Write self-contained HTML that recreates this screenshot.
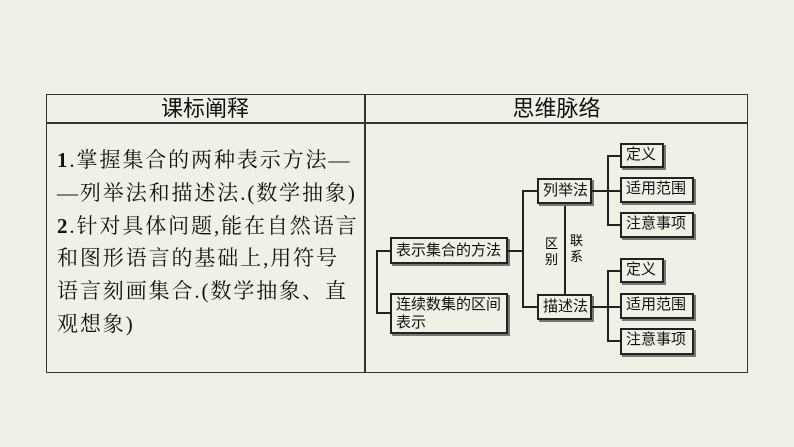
<!DOCTYPE html>
<html><head><meta charset="utf-8"><style>
body{margin:0;width:794px;height:447px;background:#eef2e6;position:relative;overflow:hidden;font-family:"Liberation Serif","Noto Serif CJK SC",serif;}
.a{position:absolute;}
.h{font-family:"Liberation Sans","Noto Sans CJK SC",sans-serif;font-size:22px;color:#111;text-align:center;}
.t{font-size:21px;color:#111;line-height:32.8px;letter-spacing:1.9px;white-space:nowrap;}
.b{position:absolute;border:2px solid #222;box-shadow:2px 2px 0 #777;background:#eef2e6;font-family:"Liberation Sans","Noto Sans CJK SC",sans-serif;font-size:15px;color:#111;box-sizing:border-box;padding-left:4px;line-height:20px;}
.l{position:absolute;background:#222;}
</style></head><body>
<div class="a" style="left:46px;top:94px;width:702px;height:279px;border:1.5px solid #333;box-sizing:border-box"></div>
<div class="a" style="left:46px;top:122px;width:702px;height:1.5px;background:#333"></div>
<div class="a" style="left:364px;top:94px;width:1.5px;height:279px;background:#333"></div>
<div class="a h" style="left:46px;top:95px;width:318px;line-height:27px">课标阐释</div>
<div class="a h" style="left:365px;top:95px;width:383px;line-height:27px">思维脉络</div>
<div class="a t" style="left:57px;top:144px"><b>1</b>.掌握集合的两种表示方法—<br>—列举法和描述法.(数学抽象)<br><b>2</b>.针对具体问题,能在自然语言<br>和图形语言的基础上,用符号<br>语言刻画集合.(数学抽象、直<br>观想象)</div>

<div class="l" style="left:376px;top:250px;width:2px;height:64px"></div>
<div class="l" style="left:376px;top:250px;width:14px;height:2px"></div>
<div class="l" style="left:376px;top:312px;width:14px;height:2px"></div>
<div class="b" style="left:390px;top:237px;width:118px;height:27px;line-height:23px">表示集合的方法</div>
<div class="b" style="left:390px;top:293px;width:118px;height:41px;line-height:18px;padding-top:1px">连续数集的区间<br>表示</div>

<div class="l" style="left:508px;top:250px;width:16px;height:2px"></div>
<div class="l" style="left:522px;top:190px;width:2px;height:118px"></div>
<div class="l" style="left:522px;top:190px;width:15px;height:2px"></div>
<div class="l" style="left:522px;top:306px;width:15px;height:2px"></div>
<div class="l" style="left:564px;top:204px;width:2px;height:90px"></div>
<div class="a" style="left:545px;top:236px;font-family:'Liberation Sans','Noto Sans CJK SC',sans-serif;font-size:13px;line-height:16px;width:14px">区<br>别</div>
<div class="a" style="left:570px;top:233px;font-family:'Liberation Sans','Noto Sans CJK SC',sans-serif;font-size:13px;line-height:16px;width:14px">联<br>系</div>
<div class="b" style="left:537px;top:178px;width:55px;height:26px;line-height:22px">列举法</div>
<div class="b" style="left:537px;top:294px;width:55px;height:26px;line-height:22px">描述法</div>

<div class="l" style="left:592px;top:190px;width:16px;height:2px"></div>
<div class="l" style="left:607px;top:155px;width:2px;height:70px"></div>
<div class="l" style="left:607px;top:155px;width:13px;height:2px"></div>
<div class="l" style="left:607px;top:190px;width:13px;height:2px"></div>
<div class="l" style="left:607px;top:224px;width:13px;height:2px"></div>
<div class="b" style="left:620px;top:143px;width:44px;height:25px">定义</div>
<div class="b" style="left:620px;top:177px;width:74px;height:26px">适用范围</div>
<div class="b" style="left:620px;top:212px;width:74px;height:26px">注意事项</div>

<div class="l" style="left:592px;top:306px;width:16px;height:2px"></div>
<div class="l" style="left:607px;top:270px;width:2px;height:72px"></div>
<div class="l" style="left:607px;top:270px;width:13px;height:2px"></div>
<div class="l" style="left:607px;top:306px;width:13px;height:2px"></div>
<div class="l" style="left:607px;top:340px;width:13px;height:2px"></div>
<div class="b" style="left:620px;top:258px;width:44px;height:25px">定义</div>
<div class="b" style="left:620px;top:293px;width:74px;height:26px">适用范围</div>
<div class="b" style="left:620px;top:328px;width:74px;height:27px">注意事项</div>
</body></html>
